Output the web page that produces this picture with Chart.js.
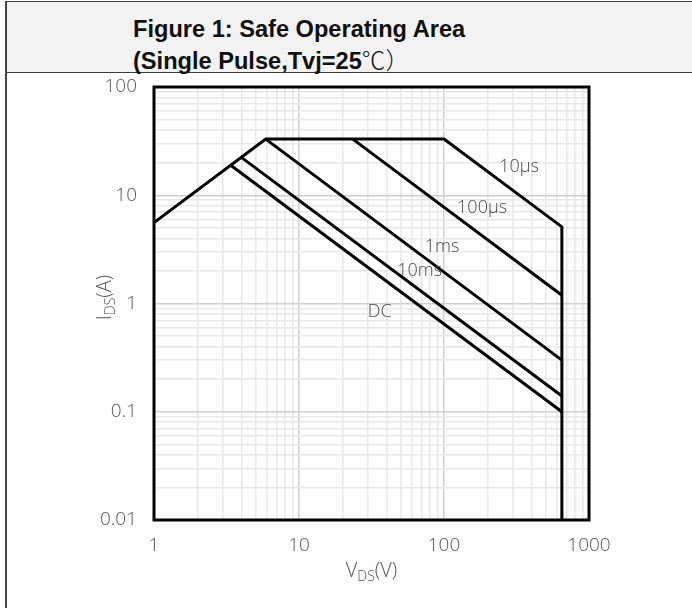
<!DOCTYPE html>
<html>
<head>
<meta charset="utf-8">
<script src="https://cdn.jsdelivr.net/npm/chart.js@4/dist/chart.umd.min.js"></script>
<style>
  html, body { margin: 0; padding: 0; background: #fff; }
  #wrap { position: relative; width: 692px; height: 608px; overflow: hidden; background: #fff; }
  #head { position: absolute; left: 6px; top: 1px; width: 686px; height: 70px; background: #f2f2f2;
          border-top: 1px solid #3c3c3c; border-bottom: 1px solid #3c3c3c; }
  #leftRule { position: absolute; left: 5px; top: 1px; width: 2px; height: 607px; background: #444; }
  .ttl { position: absolute; left: 133px; font-family: "Liberation Sans", Arial, "Noto Sans CJK SC", sans-serif;
         font-weight: bold; font-size: 23.6px; line-height: 30px; color: #111; white-space: nowrap; }
  .ttl .cjk { font-family: "Noto Sans CJK SC", sans-serif; font-weight: 300; }
  #c { position: absolute; left: 0; top: 0; }
</style>
</head>
<body>
<div id="wrap">
  <div id="head"></div>
  <div id="leftRule"></div>
  <div class="ttl" style="top:14px">Figure 1: Safe Operating Area</div>
  <div class="ttl" style="top:44px">(Single Pulse,Tvj=25<span class="cjk">℃）</span></div>
  <canvas id="c" width="692" height="608"></canvas>
</div>
<script>
// Safe operating area limits, drain current I_DS (A) versus drain-source voltage V_DS (V)
// Outer envelope (10 µs): R_DS(on) limit, current limit, power limit, breakdown voltage
const env10usV = [1, 5.9, 100, 650, 650];
const env10usI = [5.6, 33, 33, 5.1, 0.01];
const lim100usV = [23.5, 650];
const lim100usI = [33, 1.19];
const lim1msV = [5.9, 650];
const lim1msI = [33, 0.30];
const lim10msV = [4.0, 650];
const lim10msI = [22.4, 0.14];
const limDcV = [3.38, 650];
const limDcI = [18.9, 0.10];

// Curve captions and where they sit (V, I)
const curveNames = ['10μs', '100μs', '1ms', '10ms', 'DC'];
const captionV = [329, 183, 97, 68, 36];
const captionI = [18.2, 7.7, 3.37, 2.02, 0.83];

// Axis ranges and decade tick labels
const xDecades = [1, 10, 100, 1000];
const xTickLabels = ['1', '10', '100', '1000'];
const yDecades = [0.01, 0.1, 1, 10, 100];
const yTickLabels = ['0.01', '0.1', '1', '10', '100'];

const toPoints = (vs, is) => vs.map((v, k) => ({ x: v, y: is[k] }));

function logTicks(decades) {
  const out = [];
  for (let d = 0; d < decades.length; d++) {
    const base = decades[d];
    if (d === decades.length - 1) { out.push({ value: base }); break; }
    for (let k = 1; k <= 9; k++) out.push({ value: Number((k * base).toPrecision(6)) });
  }
  return out;
}
function isDecade(list, v) { return list.some(d => Math.abs(d - v) / d < 1e-6); }

const fontFamily = '"Open Sans", "Noto Sans", sans-serif';
const tickFont = { family: fontFamily, size: 19, weight: 300 };
const textGrey = '#555555';

const framePlugin = {
  id: 'frame',
  beforeDatasetsDraw(chart) {
    const { ctx, chartArea: a } = chart;
    ctx.save();
    ctx.strokeStyle = '#000';
    ctx.lineWidth = 3;
    ctx.strokeRect(a.left, a.top, a.right - a.left, a.bottom - a.top);
    ctx.restore();
  }
};

const captionPlugin = {
  id: 'captions',
  afterDatasetsDraw(chart) {
    const { ctx, scales } = chart;
    ctx.save();
    ctx.fillStyle = '#4a4a4a';
    ctx.font = '300 18px ' + fontFamily;
    ctx.textAlign = 'center';
    ctx.textBaseline = 'middle';
    curveNames.forEach((name, k) => {
      ctx.fillText(name, scales.x.getPixelForValue(captionV[k]), scales.y.getPixelForValue(captionI[k]));
    });
    ctx.restore();
  }
};

// Axis titles with subscripts: I_DS(A) and V_DS(V)
function drawSubTitle(ctx, main, sub, tail, cx, cy) {
  const big = '300 20px ' + fontFamily;
  const small = '300 14px ' + fontFamily;
  ctx.font = big; const w1 = ctx.measureText(main).width; const w3 = ctx.measureText(tail).width;
  ctx.font = small; const w2 = ctx.measureText(sub).width;
  let x = cx - (w1 + w2 + w3) / 2;
  ctx.textBaseline = 'alphabetic';
  ctx.textAlign = 'left';
  ctx.font = big; ctx.fillText(main, x, cy + 7); x += w1;
  ctx.font = small; ctx.fillText(sub, x, cy + 11); x += w2;
  ctx.font = big; ctx.fillText(tail, x, cy + 7);
}
const axisTitlePlugin = {
  id: 'axisTitles',
  afterDraw(chart) {
    const { ctx, chartArea: a } = chart;
    ctx.save();
    ctx.fillStyle = textGrey;
    drawSubTitle(ctx, 'V', 'DS', '(V)', (a.left + a.right) / 2, 570);
    ctx.translate(104, (a.top + a.bottom) / 2 - 6);
    ctx.rotate(-Math.PI / 2);
    drawSubTitle(ctx, 'I', 'DS', '(A)', 0, 0);
    ctx.restore();
  }
};

const lineStyle = { borderColor: '#000', borderWidth: 3, pointRadius: 0, showLine: true, tension: 0, fill: false };

new Chart(document.getElementById('c'), {
  type: 'scatter',
  data: {
    datasets: [
      { label: curveNames[0], data: toPoints(env10usV, env10usI), ...lineStyle },
      { label: curveNames[1], data: toPoints(lim100usV, lim100usI), ...lineStyle },
      { label: curveNames[2], data: toPoints(lim1msV, lim1msI), ...lineStyle },
      { label: curveNames[3], data: toPoints(lim10msV, lim10msI), ...lineStyle },
      { label: curveNames[4], data: toPoints(limDcV, limDcI), ...lineStyle }
    ]
  },
  options: {
    responsive: false,
    animation: false,
    devicePixelRatio: 1,
    layout: { padding: { left: 0, top: 87, right: 103, bottom: 0 } },
    plugins: { legend: { display: false }, tooltip: { enabled: false }, title: { display: false } },
    scales: {
      x: {
        type: 'logarithmic', position: 'bottom', min: 1, max: 1000,
        afterBuildTicks: s => { s.ticks = logTicks(xDecades); },
        afterFit: s => { s.height = 88; },
        border: { display: false },
        grid: {
          drawTicks: false,
          color: c => (c.tick && isDecade(xDecades, c.tick.value)) ? '#cfcfcf' : '#e8e8e8',
          lineWidth: 1.5
        },
        ticks: {
          autoSkip: false, maxRotation: 0, padding: 14, color: textGrey, font: tickFont,
          callback: v => { const k = xDecades.findIndex(d => Math.abs(d - v) / d < 1e-6); return k >= 0 ? xTickLabels[k] : ''; }
        }
      },
      y: {
        type: 'logarithmic', position: 'left', min: 0.01, max: 100,
        afterBuildTicks: s => { s.ticks = logTicks(yDecades); },
        afterFit: s => { s.width = 154; },
        border: { display: false },
        grid: {
          drawTicks: false,
          color: c => (c.tick && isDecade(yDecades, c.tick.value)) ? '#cfcfcf' : '#e8e8e8',
          lineWidth: 1.5
        },
        ticks: {
          autoSkip: false, padding: 17, color: textGrey, font: tickFont,
          callback: v => { const k = yDecades.findIndex(d => Math.abs(d - v) / d < 1e-6); return k >= 0 ? yTickLabels[k] : ''; }
        }
      }
    }
  },
  plugins: [framePlugin, captionPlugin, axisTitlePlugin]
});
</script>
</body>
</html>
